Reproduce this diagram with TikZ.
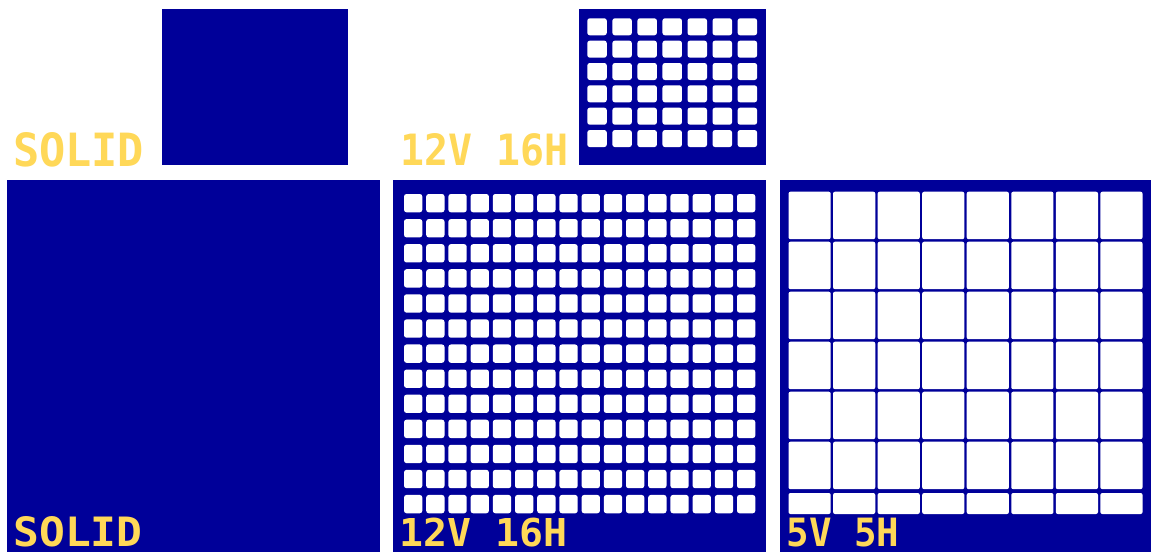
\documentclass[tikz,border=0pt]{standalone}
\usepackage{fontspec}
\usepackage{graphicx}
\newfontfamily\lblfont{DejaVu Sans Mono}
\definecolor{panelblue}{RGB}{0,0,153}
\definecolor{lblyellow}{RGB}{255,216,88}
\begin{document}
\begin{tikzpicture}[x=1pt,y=-1pt,
  panel/.style={fill=panelblue,draw=none},
  cell/.style={fill=white,draw=none,rounded corners=2.5pt},
  bigcell/.style={fill=white,draw=none,rounded corners=2pt},
  lbl/.style={inner sep=0pt,outer sep=0pt,anchor=base west,text=lblyellow,font=\lblfont\bfseries}]
\useasboundingbox (0,0) rectangle (1151,552);
\fill[white] (0,0) rectangle (1151,552);
% top row panels
\path[panel] (162,9) rectangle (348,165);
\path[panel] (579,9) rectangle (766,165);
\foreach \i in {0,...,6}
  \foreach \j in {0,...,5}
    \path[cell] ({587.3+\i*25.05},{18.3+\j*22.35}) rectangle ++(19.5,17);
% bottom row panels
\path[panel] (7,180) rectangle (380,552);
\path[panel] (393,180) rectangle (766,552);
\foreach \i in {0,...,15}
  \foreach \j in {0,...,12}
    \path[cell] ({404+\i*22.2},{194+\j*25.08}) rectangle ++(18.3,18.3);
\path[panel] (780,180) rectangle (1151,552);
\foreach \i in {0,...,7}{
  \foreach \j in {0,...,5}
    \path[bigcell] ({788.5+\i*44.55},{191.7+\j*50}) rectangle ++(42.2,47.5);
  \path[bigcell] ({788.5+\i*44.55},493) rectangle ++(42.2,21);
}
% labels
\node[lbl] (lblSolidTop) at (13,166) {\resizebox{131pt}{34pt}{SOLID}};
\node[lbl] (lblGridTop) at (400,165) {\resizebox{168pt}{32pt}{12V 16H}};
\node[lbl] (lblSolidBig) at (13.5,546.7) {\resizebox{129pt}{30pt}{SOLID}};
\node[lbl] (lblGridBig) at (399.5,546.7) {\resizebox{168pt}{28.5pt}{12V 16H}};
\node[lbl] (lblFiveBig) at (786.5,546.7) {\resizebox{112.7pt}{28.4pt}{5V 5H}};
\end{tikzpicture}
\end{document}
